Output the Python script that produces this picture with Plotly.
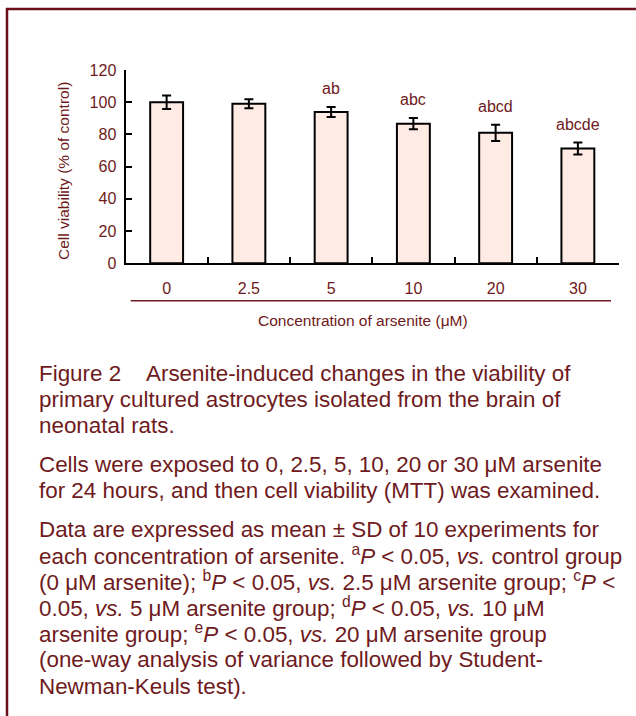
import plotly.graph_objects as go

W, H = 636, 716

categories = ["0", "2.5", "5", "10", "20", "30"]
viability = [100, 99, 94, 86.7, 81, 71.3]
sd = [4.2, 2.8, 3.1, 3.5, 5.0, 3.7]
sig_labels = ["", "", "ab", "abc", "abcd", "abcde"]
y_ticks = [0, 20, 40, 60, 80, 100, 120]

caption_lines = [
    ("Figure 2&#160;&#160;&#160;&#160;Arsenite-induced changes in the viability of", 373),
    ("primary cultured astrocytes isolated from the brain of", 399.5),
    ("neonatal rats.", 426),
    ("Cells were exposed to 0, 2.5, 5, 10, 20 or 30 μM arsenite", 464),
    ("for 24 hours, and then cell viability (MTT) was examined.", 490.5),
    ("Data are expressed as mean ± SD of 10 experiments for", 529),
    ("each concentration of arsenite. <sup>a</sup><i>P</i> &lt; 0.05, <i>vs.</i> control group", 555),
    ("(0 μM arsenite); <sup>b</sup><i>P</i> &lt; 0.05, <i>vs.</i> 2.5 μM arsenite group; <sup>c</sup><i>P</i> &lt;", 581),
    ("0.05, <i>vs.</i> 5 μM arsenite group; <sup>d</sup><i>P</i> &lt; 0.05, <i>vs.</i> 10 μM", 607),
    ("arsenite group; <sup>e</sup><i>P</i> &lt; 0.05, <i>vs.</i> 20 μM arsenite group", 633),
    ("(one-way analysis of variance followed by Student-", 659.5),
    ("Newman-Keuls test).", 686),
]

MAROON = "#6e1a20"
FONT = "Liberation Sans, Arial, sans-serif"

# plot area in pixels
L, R, T, B = 125.5, 619, 70, 263.3

def px(x):
    return x / W

def py(y):
    return 1 - y / H

fig = go.Figure()
fig.add_trace(go.Bar(
    x=categories, y=viability, width=0.4,
    marker=dict(color="#feebe3", line=dict(color="#000000", width=2)),
    error_y=dict(type="data", array=sd, visible=True, color="#000000", thickness=2, width=4.5),
    showlegend=False, hoverinfo="skip",
))

annotations = []
for i, (v, s, lab) in enumerate(zip(viability, sd, sig_labels)):
    if lab:
        annotations.append(dict(x=i, y=v + s, xref="x", yref="y", text=lab, showarrow=False,
                                yanchor="middle", yshift=18,
                                font=dict(family=FONT, size=16, color=MAROON)))

annotations.append(dict(x=px(363), y=py(320), xref="paper", yref="paper",
                        text="Concentration of arsenite (μM)", showarrow=False,
                        xanchor="center", yanchor="middle",
                        font=dict(family=FONT, size=15.5, color=MAROON)))
annotations.append(dict(x=px(63), y=py(171), xref="paper", yref="paper",
                        text="Cell viability (% of control)", showarrow=False, textangle=-90,
                        xanchor="center", yanchor="middle",
                        font=dict(family=FONT, size=15.5, color=MAROON)))
for txt, yy in caption_lines:
    annotations.append(dict(x=px(37), y=py(yy), xref="paper", yref="paper", text=txt,
                            showarrow=False, xanchor="left", yanchor="middle", align="left",
                            font=dict(family=FONT, size=22.4, color=MAROON)))

shapes = [
    dict(type="line", xref="paper", yref="paper", x0=px(7), x1=px(7), y0=py(8), y1=py(716),
         line=dict(color="#6b0f1a", width=2.5)),
    dict(type="line", xref="paper", yref="paper", x0=px(6), x1=px(636), y0=py(9), y1=py(9),
         line=dict(color="#6b0f1a", width=2.5)),
    dict(type="line", xref="paper", yref="paper", x0=px(130.7), x1=px(611), y0=py(300.7), y1=py(300.7),
         line=dict(color=MAROON, width=1.5)),
]

fig.update_layout(
    template="none",
    width=W, height=H,
    margin=dict(l=0, r=0, t=0, b=0, pad=0, autoexpand=False),
    paper_bgcolor="white", plot_bgcolor="white",
    xaxis=dict(domain=[px(L), px(R)], type="category", range=[-0.5, 5.5], automargin=False,
               showline=True, linecolor="#000000", linewidth=2,
               ticks="inside", ticklen=6, tickwidth=2, tickcolor="#000000", tickson="boundaries",
               showgrid=False, zeroline=False,
               tickfont=dict(family=FONT, size=16, color=MAROON), ticklabelstandoff=9),
    yaxis=dict(domain=[py(B), py(T)], range=[0, 120], tickvals=y_ticks, automargin=False,
               showline=True, linecolor="#000000", linewidth=2,
               ticks="inside", ticklen=6, tickwidth=2, tickcolor="#000000",
               showgrid=False, zeroline=False,
               tickfont=dict(family=FONT, size=16, color=MAROON), ticklabelstandoff=4),
    annotations=annotations,
    shapes=shapes,
)

fig.write_html("out.html")
